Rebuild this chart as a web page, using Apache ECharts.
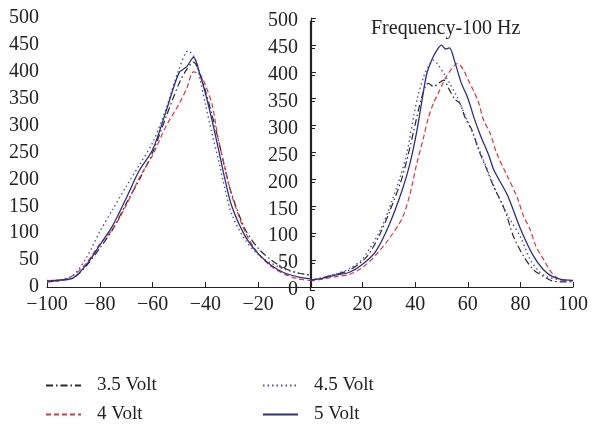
<!DOCTYPE html>
<html>
<head>
<meta charset="utf-8">
<script src="https://cdn.jsdelivr.net/npm/echarts@6/dist/echarts.min.js"></script>
<style>
  html, body { margin: 0; padding: 0; background: #fff; }
  #chart { width: 595px; height: 424px; }
</style>
</head>
<body>
<div id="chart"></div>
<script>
// left panel (-100..0)
var left35 = [[-100,10],[-95,12],[-90,17],[-85,40],[-80,72],[-75,108],[-70,155],[-65,200],[-60,250],[-55,315],[-50,378],[-47,405],[-44.5,418],[-42,395],[-40,365],[-37.5,320],[-35,272],[-32.5,218],[-30,172],[-25,108],[-20,72],[-15,50],[-10,35],[-5,26],[0,22]];
var left40 = [[-100,9],[-95,12],[-90,22],[-85,45],[-80,80],[-75,108],[-70,152],[-65,203],[-60,245],[-55,298],[-50,340],[-47,370],[-44.5,400],[-42,395],[-40,375],[-37.5,340],[-35,272],[-32.5,220],[-30,170],[-25,103],[-20,62],[-15,38],[-10,24],[-5,15],[0,12]];
var left45 = [[-100,12],[-95,13],[-90,22],[-85,55],[-80,103],[-75,145],[-70,187],[-65,227],[-60,268],[-55,330],[-50,405],[-46.5,439],[-44,425],[-42,385],[-40,340],[-37.5,285],[-35,235],[-32.5,180],[-30,135],[-25,88],[-20,60],[-15,44],[-10,33],[-5,26],[0,22]];
var left50 = [[-100,11],[-95,13],[-90,17],[-85,42],[-80,78],[-75,115],[-70,165],[-65,217],[-60,255],[-55,325],[-50,398],[-47,410],[-44.5,427],[-42,394],[-40,360],[-37.5,310],[-35,255],[-32.5,198],[-30,150],[-25,95],[-20,62],[-15,40],[-10,26],[-5,19],[0,15]];

// right panel (0..100)
var right35 = [[0,18],[4,22],[9,28],[15,37],[21.6,62],[26.7,105],[30.5,149],[34.3,198],[36.8,241],[39.4,295],[42,350],[44,380],[45,384],[47,378],[49,385],[50.8,390],[53,372],[55,355],[57,347],[59,320],[61.6,297],[64,262],[67.3,223],[70,190],[73,161],[75,135],[77.4,99],[81.3,62],[85.1,37],[88.9,25],[92,17],[96,15],[100,15]];
var right40 = [[0,17],[5,20],[10,25],[15,29],[20,42],[25,65],[30,95],[35,133],[38,178],[40.6,235],[43,280],[45,320],[47,348],[49,368],[51.4,393],[54,412],[56,421],[58,412],[60,392],[62,372],[64,350],[66,316],[68.6,290],[71,254],[75,212],[78.7,173],[81,140],[83.8,111],[86,80],[88.9,56],[91,38],[93.3,25],[96,18],[100,17]];
var right45 = [[0,18],[5,23],[10,30],[15.2,40],[20,58],[26.7,111],[30,150],[34.3,210],[36.8,254],[39.4,322],[41,360],[43.2,396],[45,415],[47,427],[48.5,420],[50.8,403],[53,385],[55.9,359],[59.7,316],[62,290],[66,241],[71.7,173],[76.2,130],[80,99],[83.8,56],[87,35],[90,25],[95,19],[100,17]];
var right50 = [[0,18],[5,22],[10,28],[15,33],[20,48],[25,72],[30,120],[35,185],[38,235],[40.6,295],[42.5,350],[44.4,402],[46.5,430],[48.3,446],[50,455],[51.5,448],[53,450],[55,425],[57.5,385],[60,357],[62.5,318],[65,285],[68,250],[70,222],[75,177],[80,114],[85,63],[90,32],[95,20],[100,18]];

var names = ['3.5 Volt', '4 Volt', '4.5 Volt', '5 Volt'];
var xTicksLeft = [-100, -80, -60, -40, -20];

var font = 'Liberation Serif';
var styles = [
  {color: '#2a2a2a', width: 1.2, type: [7, 3, 1.5, 3]},
  {color: '#e0353a', width: 1.2, type: [5, 3]},
  {color: '#4b52b4', width: 1.4, type: [1.5, 3]},
  {color: '#2b2f8c', width: 1.3, type: 'solid'}
];

function mkSeries(name, data, idx, st) {
  return {
    name: name, type: 'line', xAxisIndex: idx, yAxisIndex: idx,
    data: data, symbol: 'none', smooth: 0.3, animation: false,
    lineStyle: st, itemStyle: {color: st.color}
  };
}

function mkLegend(name, left, top) {
  return {
    data: [name], left: left, top: top, padding: 0,
    itemWidth: 35, itemHeight: 14,
    itemStyle: {opacity: 0},
    textStyle: {fontFamily: font, fontSize: 19, color: '#222', padding: [0, 0, 0, 11]}
  };
}

function minus(v) { return String(v).replace('-', '\u2212'); }

var axisLine = {lineStyle: {color: '#222', width: 1.2}};
var label = {fontFamily: font, fontSize: 20, color: '#222'};

var chart = echarts.init(document.getElementById('chart'));
chart.setOption({
  backgroundColor: '#fff',
  title: {
    text: 'Frequency-100 Hz', left: 366, top: 14,
    textStyle: {fontFamily: font, fontSize: 20, fontWeight: 'normal', color: '#222'}
  },
  legend: [
    mkLegend(names[0], 45, 376),
    mkLegend(names[1], 45, 405),
    mkLegend(names[2], 262, 376),
    mkLegend(names[3], 262, 405)
  ],
  grid: [
    {left: 47, top: 18, width: 264, height: 269},
    {left: 310, top: 21, width: 263, height: 269}
  ],
  xAxis: [
    {type: 'value', gridIndex: 0, min: -100, max: 0, interval: 20,
     axisLine: axisLine, axisTick: {inside: true, length: 5, lineStyle: {color: '#222'}},
     splitLine: {show: false},
     axisLabel: Object.assign({margin: 8, formatter: function (v) {
       return xTicksLeft.indexOf(v) >= 0 ? minus(v) : '';
     }}, label)},
    {type: 'value', gridIndex: 1, min: 0, max: 100, interval: 20, offset: -3,
     axisLine: axisLine, axisTick: {inside: true, length: 5, lineStyle: {color: '#222'}},
     splitLine: {show: false},
     axisLabel: Object.assign({margin: 8}, label)}
  ],
  yAxis: [
    {type: 'value', gridIndex: 0, min: 0, max: 500, interval: 50,
     axisLine: {show: true, lineStyle: {color: '#222', width: 1.2}},
     axisTick: {show: true, inside: true, length: 5, lineStyle: {color: '#222'}},
     splitLine: {show: false},
     axisLabel: Object.assign({margin: 8}, label)},
    {type: 'value', gridIndex: 1, min: 0, max: 500, interval: 50,
     axisLine: {show: true, lineStyle: {color: '#222', width: 1.2}},
     axisTick: {show: true, inside: true, length: 5, lineStyle: {color: '#222'}},
     splitLine: {show: false},
     axisLabel: Object.assign({margin: 12}, label)}
  ],
  series: [
    mkSeries(names[0], left35, 0, styles[0]),
    mkSeries(names[1], left40, 0, styles[1]),
    mkSeries(names[2], left45, 0, styles[2]),
    mkSeries(names[3], left50, 0, styles[3]),
    mkSeries(names[0], right35, 1, styles[0]),
    mkSeries(names[1], right40, 1, styles[1]),
    mkSeries(names[2], right45, 1, styles[2]),
    mkSeries(names[3], right50, 1, styles[3])
  ]
});
</script>
</body>
</html>
